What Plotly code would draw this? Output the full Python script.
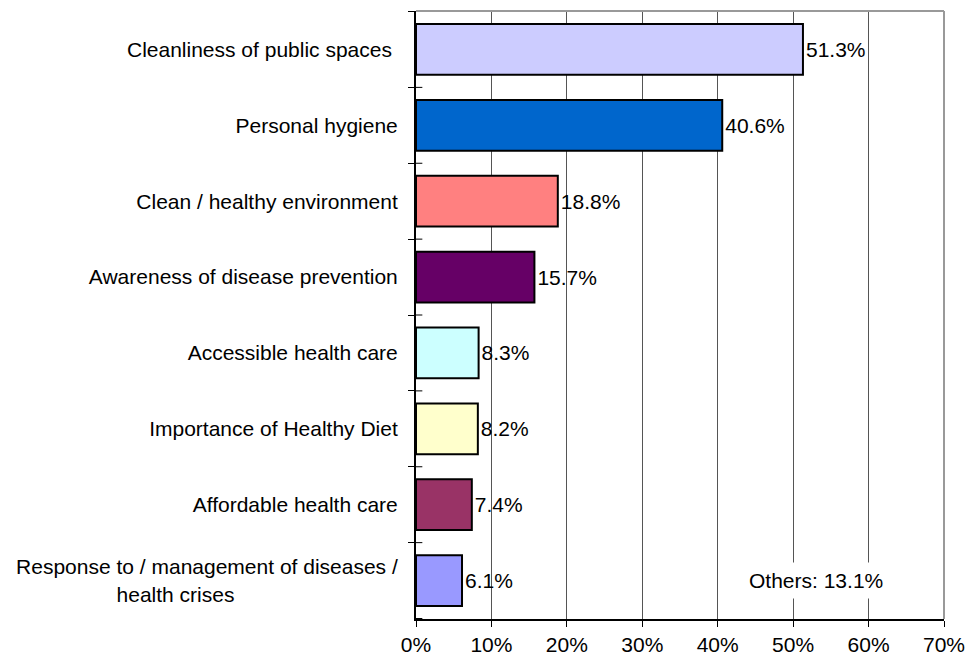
import plotly.graph_objects as go

categories = [
    "Cleanliness of public spaces ",
    "Personal hygiene",
    "Clean / healthy environment",
    "Awareness of disease prevention",
    "Accessible health care",
    "Importance of Healthy Diet",
    "Affordable health care",
    "Response to / management of diseases /<br>health crises" + "\u00a0" * 28,
]
values = [51.3, 40.6, 18.8, 15.7, 8.3, 8.2, 7.4, 6.1]
colors = ["#CCCCFF", "#0066CC", "#FF8080", "#660066", "#CCFFFF", "#FFFFCC", "#993366", "#9999FF"]
others_label = "Others: 13.1%"

font = dict(family="Liberation Sans, Arial, sans-serif", size=21, color="#000000")

fig = go.Figure(go.Bar(
    x=values,
    y=categories,
    orientation="h",
    marker=dict(color=colors, line=dict(color="#000000", width=2)),
    text=[f"{v:.1f}%" for v in values],
    textposition="outside",
    textfont=font,
    cliponaxis=False,
))

# cross ticks on the category axis (inside part)
shapes = []
for i in range(len(categories) + 1):
    shapes.append(dict(type="line", xref="paper", yref="y", x0=0, x1=0.012,
                       y0=i - 0.5, y1=i - 0.5, line=dict(color="#000000", width=1)))
# top and right border
shapes.append(dict(type="line", xref="paper", yref="paper", x0=0, x1=1, y0=1, y1=1,
                   line=dict(color="#999999", width=2)))
shapes.append(dict(type="line", xref="paper", yref="paper", x0=1, x1=1, y0=0, y1=1,
                   line=dict(color="#999999", width=2)))

fig.update_layout(
    width=967, height=659,
    margin=dict(l=416, r=23, t=11, b=40, autoexpand=False),
    paper_bgcolor="white", plot_bgcolor="white",
    font=font,
    showlegend=False,
    bargap=0.33,
    shapes=shapes,
    annotations=[dict(
        x=53, y=categories[-1], xref="x", yref="y",
        text=others_label, showarrow=False, font=font,
        bgcolor="white", borderpad=6,
    )],
    xaxis=dict(
        range=[0, 70], dtick=10, ticksuffix="%",
        showgrid=True, gridcolor="#555555", gridwidth=1,
        showline=True, linecolor="#000000", linewidth=2,
        ticks="outside", ticklen=6, tickcolor="#000000",
        zeroline=False, tickfont=font, automargin=False,
    ),
    yaxis=dict(
        autorange="reversed",
        showline=True, linecolor="#000000", linewidth=2,
        ticks="outside", tickson="boundaries", ticklen=6, tickcolor="#000000",
        ticklabelstandoff=12, tickfont=font, showgrid=False, automargin=False,
    ),
)

# drop the default page margin so the figure sits at the window's corner
fig.write_html("out.html", config={"displayModeBar": False},
               post_script="document.body.style.margin='0px';")
